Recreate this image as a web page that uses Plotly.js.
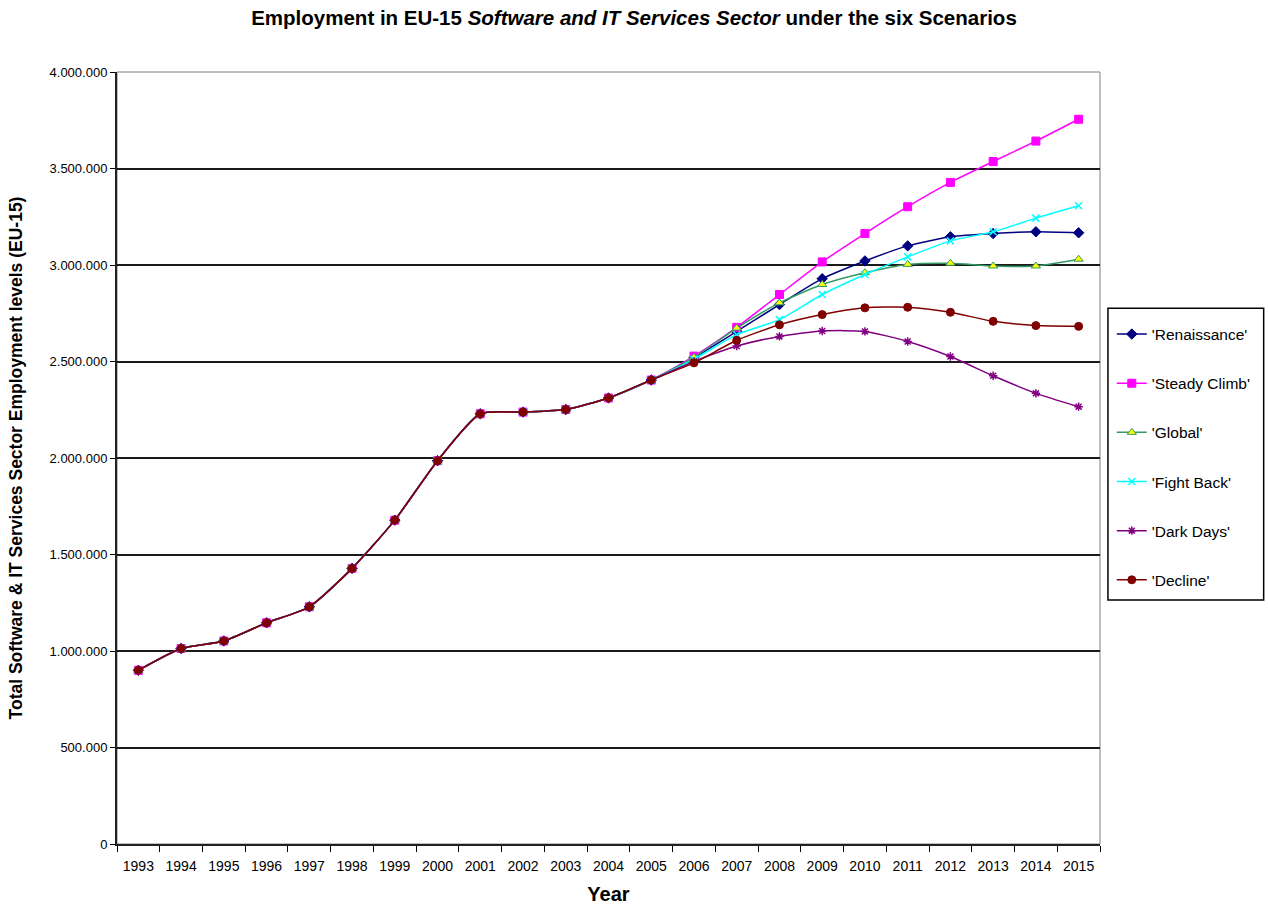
<!DOCTYPE html>
<html>
<head>
<meta charset="utf-8">
<script src="https://cdn.plot.ly/plotly-3.0.1.min.js"></script>
<style>html,body{margin:0;padding:0;background:#fff;}#chart{width:1268px;height:905px;}</style>
</head>
<body>
<div id="chart"></div>
<script>
var years = ['1993','1994','1995','1996','1997','1998','1999','2000','2001','2002','2003','2004','2005','2006','2007','2008','2009','2010','2011','2012','2013','2014','2015'];
var historical = [900000,1013000,1052000,1146000,1229000,1428000,1678000,1986000,2229000,2238000,2251000,2311000,2404000];
var renaissance = historical.concat([2520000,2656000,2795000,2929000,3021000,3099000,3146000,3163000,3172000,3167000]);
var steadyClimb = historical.concat([2528000,2677000,2847000,3016000,3163000,3302000,3428000,3536000,3642000,3755000]);
var globalScen = historical.concat([2522000,2673000,2804000,2899000,2960000,3003000,3009000,2995000,2995000,3030000]);
var fightBack = historical.concat([2512000,2639000,2717000,2847000,2951000,3042000,3125000,3172000,3243000,3307000]);
var darkDays = historical.concat([2500000,2580000,2630000,2658000,2656000,2604000,2526000,2426000,2335000,2266000]);
var decline = historical.concat([2493000,2610000,2690000,2743000,2778000,2781000,2755000,2708000,2686000,2682000]);

var seriesNames = ["'Renaissance'","'Steady Climb'","'Global'","'Fight Back'","'Dark Days'","'Decline'"];
var seriesData = [renaissance, steadyClimb, globalScen, fightBack, darkDays, decline];
var lineColors = ['#000080','#FF00FF','#339966','#00FFFF','#800080','#800000'];
var markerSymbols = ['diamond','square','triangle-up','x-thin','asterisk','circle'];
var markerFills = ['#000080','#FF00FF','#FFFF00','#00FFFF','#800080','#800000'];
var markerLines = ['#000080','#FF00FF','#339966','#00FFFF','#800080','#800000'];
var markerSizes = [8,8,8,7,7,8];

var traces = seriesData.map(function(vals, i){
  return {
    x: years, y: vals, name: seriesNames[i], type: 'scatter', mode: 'lines+markers',
    legendgroup: 'g'+i,
    line: {color: lineColors[i], width: 1.5, shape: 'spline', smoothing: 0.6},
    marker: {symbol: markerSymbols[i], size: markerSizes[i], color: markerFills[i],
             line: {color: markerLines[i], width: (i===3||i===4)?1.5:1}}
  };
});

var layout = {
  width: 1268, height: 905,
  paper_bgcolor: '#fff', plot_bgcolor: '#fff',
  margin: {l: 117, r: 166, t: 72, b: 61},
  separators: ',.',
  font: {family: 'Liberation Sans, Arial, sans-serif', color: '#000', size: 13},
  title: {text: '<b>Employment in EU-15 <i>Software and IT Services Sector</i> under the six Scenarios</b>',
          font: {size: 20.5, color: '#000'}, x: 0.5, xref: 'container', xanchor: 'center', y: 0.98, yanchor: 'middle'},
  showlegend: true,
  legend: {x: 1.012, xanchor: 'left', y: 0.682, yanchor: 'top', borderwidth: 0,
           bgcolor: 'rgba(0,0,0,0)', font: {size: 15.5, color: '#000'}, tracegroupgap: 26, itemwidth: 30},
  xaxis: {type: 'category', range: [-0.5, 22.5], tickson: 'boundaries', ticks: 'outside', ticklen: 6,
          tickcolor: '#000', showgrid: false, showline: true, linecolor: '#222', linewidth: 2,
          tickfont: {size: 14}, ticklabelstandoff: 8, automargin: false,
          title: {text: '<b>Year</b>', font: {size: 20}, standoff: 17}, zeroline: false},
  yaxis: {range: [0, 4000000], dtick: 500000, tickformat: ',d', ticks: 'outside', ticklen: 5,
          tickcolor: '#000', showgrid: true, gridcolor: '#1a1a1a', gridwidth: 2, showline: true,
          linecolor: '#222', linewidth: 2, zeroline: false, tickfont: {size: 13}, automargin: false,
          title: {text: '<b>Total Software &amp; IT Services Sector Employment levels (EU-15)</b>', font: {size: 17.5}, standoff: 22}},
  shapes: [
    {type: 'rect', xref: 'paper', yref: 'paper', x0: 0, x1: 1, y0: 0, y1: 1,
     line: {color: '#808080', width: 1}, fillcolor: 'rgba(0,0,0,0)', layer: 'below'},
    {type: 'rect', xref: 'paper', yref: 'paper', x0: 1.0081, x1: 1.1665, y0: 0.316, y1: 0.694,
     line: {color: '#000', width: 1.5}, fillcolor: '#fff', layer: 'below'}
  ]
};

Plotly.newPlot('chart', traces, layout, {displayModeBar: false, staticPlot: true});
</script>
</body>
</html>
